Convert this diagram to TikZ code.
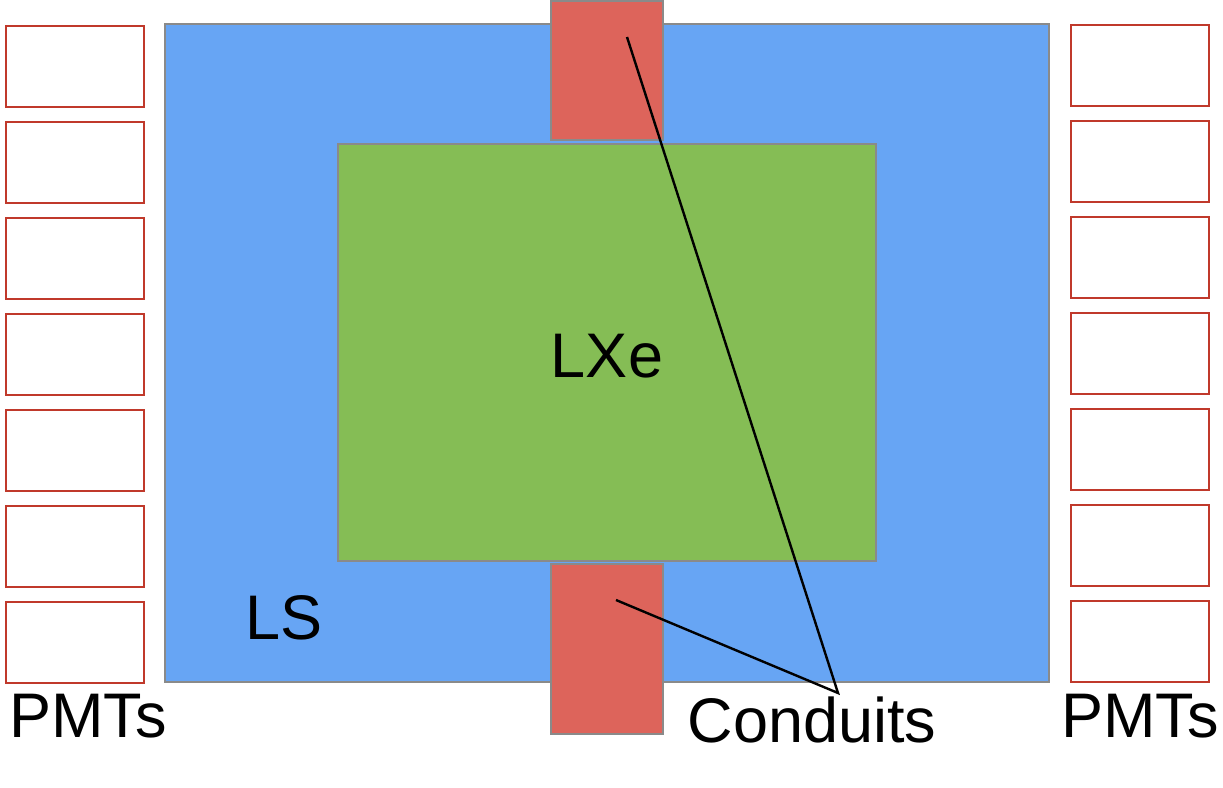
\documentclass[tikz,border=0pt]{standalone}
\usepackage{fontspec}
\setmainfont{Liberation Sans}
\definecolor{lsblue}{HTML}{67A5F4}
\definecolor{lxegreen}{HTML}{85BD55}
\definecolor{condred}{HTML}{DD645B}
\definecolor{pmtred}{HTML}{C0392B}
\definecolor{edgegrey}{HTML}{8A8A8A}
\tikzset{
  vol/.style={draw=edgegrey, line width=2pt},
  pmt/.style={draw=pmtred, fill=white, line width=2.6pt},
  lbl/.style={font=\fontsize{63}{68}\selectfont, inner sep=0pt, anchor=base},
  leader/.style={draw=black, line width=2.4pt}
}
\begin{document}
\begin{tikzpicture}[x=1pt,y=-1pt]
\useasboundingbox (0,0) rectangle (1223,787);
% LS volume
\draw[vol, fill=lsblue] (165,24) rectangle (1049,682);
% LXe volume
\draw[vol, fill=lxegreen] (338,144) rectangle (876,561);
% Conduits
\draw[vol, fill=condred] (551,1) rectangle (663,140);
\draw[vol, fill=condred] (551,564) rectangle (663,734);
% PMTs
\foreach \i in {0,...,6} {
  \draw[pmt] (6,{26+96*\i}) rectangle (144,{107+96*\i});
  \draw[pmt] (1071,{25+96*\i}) rectangle (1209,{106+96*\i});
}
% Labels
\node[lbl] (lxe) at (607,377) {LXe};
\node[lbl] (lslbl) at (284,639) {LS};
\node[lbl] (pmtl) at (88,737) {PMTs};
\node[lbl] (pmtr) at (1140,737) {PMTs};
\node[lbl] (cond) at (812,742) {Conduits};
% Leader lines
\coordinate (c1) at (627,37);
\coordinate (c2) at (616,600);
\coordinate (tip) at (838,693);
\draw[leader] (c1) -- (tip) -- (c2);
\end{tikzpicture}
\end{document}
